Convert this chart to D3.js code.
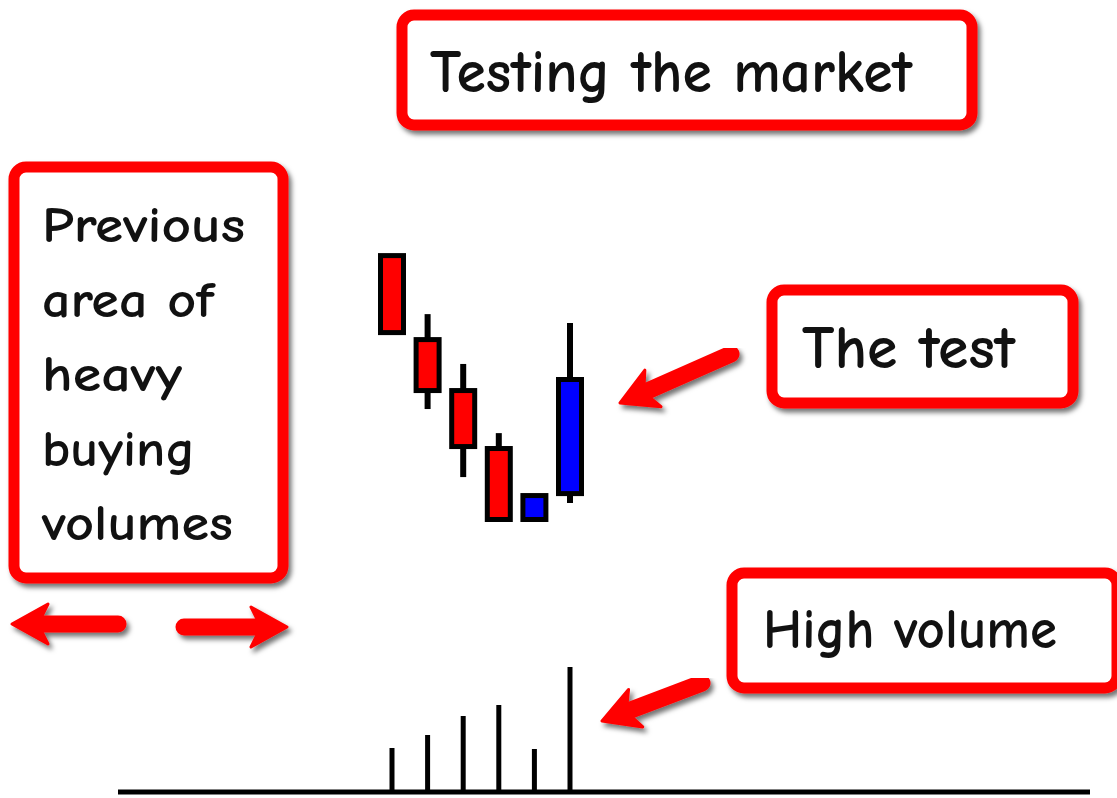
<!DOCTYPE html>
<html>
<head>
<meta charset="utf-8">
<script src="https://cdn.jsdelivr.net/npm/d3@7"></script>
<style>
  body { margin: 0; background: #fff; }
  svg { display: block; }
  text { font-family: "Comic Sans MS", "Comic Neue", "Open Sans", sans-serif; fill: #111; font-weight: 700; }
</style>
</head>
<body>
<div id="chart"></div>
<script>
(function(d3) {
  'use strict';

  // candle data (price units, 0..100)
  var candleIndex = [0, 1, 2, 3, 4, 5];
  var opens  = [98.0, 68.0, 49.8, 29.1, 3.75, 13.0];
  var closes = [70.5, 49.8, 29.8, 3.75, 12.3, 53.75];
  var highs  = [98.0, 77.1, 59.3, 34.6, 12.3, 73.9];
  var lows   = [70.5, 43.2, 18.9, 3.75, 3.75, 9.6];

  // volume under each candle
  var volumes = [44, 57, 76, 87, 43, 125];

  // annotation labels
  var titleLabel = ['Testing the market'];
  var leftLabel = ['Previous', 'area of', 'heavy', 'buying', 'volumes'];
  var testLabel = ['The test'];
  var volumeLabel = ['High volume'];

  var width = 1117;
  var height = 798;

  var red = '#ff0000';
  var blue = '#0000ff';

  var svg = d3.select('#chart')
    .append('svg')
    .attr('width', width)
    .attr('height', height);

  var defs = svg.append('defs');
  var shadow = defs.append('filter')
    .attr('id', 'shadow')
    .attr('x', '-10%').attr('y', '-10%')
    .attr('width', '130%').attr('height', '140%');
  shadow.append('feDropShadow')
    .attr('dx', 3).attr('dy', 4)
    .attr('stdDeviation', 2.5)
    .attr('flood-color', '#000')
    .attr('flood-opacity', 0.55);

  var x = d3.scaleLinear().domain([0, 5]).range([392, 570]);
  var y = d3.scaleLinear().domain([0, 100]).range([530, 250]);
  var v = d3.scaleLinear().domain([0, 130]).range([792, 662]);

  var candles = candleIndex.map(function(i) {
    return { i: i, open: opens[i], close: closes[i], high: highs[i], low: lows[i], volume: volumes[i] };
  });

  // ---- annotation boxes
  var boxes = [
    { x: 402, y: 15, w: 570, h: 110, lines: titleLabel, tx: 430, ty: 92, size: 60, lens: [482] },
    { x: 14, y: 167, w: 269, h: 411, lines: leftLabel, tx: 42, ty: 242, size: 50, step: 74.5, lens: [203, 172, 140, 153, 191] },
    { x: 772, y: 290, w: 301, h: 113, lines: testLabel, tx: 802, ty: 368, size: 60, lens: [213] },
    { x: 732, y: 573, w: 385, h: 115, lines: volumeLabel, tx: 763, ty: 648, size: 56, lens: [294] }
  ];

  var boxG = svg.selectAll('.box')
    .data(boxes)
    .enter()
    .append('g')
    .attr('class', 'box');

  boxG.append('rect')
    .attr('x', function(d) { return d.x; })
    .attr('y', function(d) { return d.y; })
    .attr('width', function(d) { return d.w; })
    .attr('height', function(d) { return d.h; })
    .attr('rx', 12)
    .attr('fill', '#fff')
    .attr('stroke', red)
    .attr('stroke-width', 11)
    .attr('filter', 'url(#shadow)');

  boxG.each(function(d) {
    var g = d3.select(this);
    d.lines.forEach(function(line, k) {
      g.append('text')
        .attr('x', d.tx)
        .attr('y', d.ty + k * (d.step || 0))
        .attr('font-size', d.size)
        .attr('textLength', d.lens[k])
        .attr('lengthAdjust', 'spacingAndGlyphs')
        .text(line);
    });
  });

  // ---- arrows
  var arrows = [
    { from: [118, 624], to: [12, 624] },
    { from: [184, 627], to: [287, 627] },
    { from: [731, 354], to: [620, 403] },
    { from: [702, 683], to: [602, 721] }
  ];

  var arrowG = svg.selectAll('.arrow')
    .data(arrows)
    .enter()
    .append('g')
    .attr('class', 'arrow')
    .attr('filter', 'url(#shadow)');

  arrowG.each(function(d) {
    var dx = d.to[0] - d.from[0], dy = d.to[1] - d.from[1];
    var len = Math.sqrt(dx * dx + dy * dy);
    var ux = dx / len, uy = dy / len;
    var px = -uy, py = ux;
    var headLen = 32, headHalf = 20;
    var bx = d.to[0] - ux * headLen, by = d.to[1] - uy * headLen;
    var g = d3.select(this);
    g.append('line')
      .attr('x1', d.from[0]).attr('y1', d.from[1])
      .attr('x2', bx + ux * 4).attr('y2', by + uy * 4)
      .attr('stroke', red)
      .attr('stroke-width', 17)
      .attr('stroke-linecap', 'round');
    g.append('path')
      .attr('d', 'M' + d.to[0] + ',' + d.to[1] +
        'L' + (bx - ux * 4 + px * headHalf) + ',' + (by - uy * 4 + py * headHalf) +
        'L' + (bx + ux * 6) + ',' + (by + uy * 6) +
        'L' + (bx - ux * 4 - px * headHalf) + ',' + (by - uy * 4 - py * headHalf) + 'Z')
      .attr('fill', red)
      .attr('stroke', red)
      .attr('stroke-width', 3)
      .attr('stroke-linejoin', 'round');
  });

  // ---- candles
  var candleG = svg.append('g').attr('class', 'candles');
  var bodyW = 23;

  candleG.selectAll('.wick')
    .data(candles)
    .enter()
    .append('line')
    .attr('class', 'wick')
    .attr('x1', function(d) { return x(d.i); })
    .attr('x2', function(d) { return x(d.i); })
    .attr('y1', function(d) { return y(d.high); })
    .attr('y2', function(d) { return y(d.low); })
    .attr('stroke', '#000')
    .attr('stroke-width', 6);

  candleG.selectAll('.body')
    .data(candles)
    .enter()
    .append('rect')
    .attr('class', 'body')
    .attr('x', function(d) { return x(d.i) - bodyW / 2; })
    .attr('y', function(d) { return y(Math.max(d.open, d.close)); })
    .attr('width', bodyW)
    .attr('height', function(d) { return Math.abs(y(d.open) - y(d.close)); })
    .attr('fill', function(d) { return d.close > d.open ? blue : red; })
    .attr('stroke', '#000')
    .attr('stroke-width', 5);

  // ---- volume
  svg.append('line')
    .attr('x1', 118).attr('x2', 1090)
    .attr('y1', v(0)).attr('y2', v(0))
    .attr('stroke', '#000')
    .attr('stroke-width', 5);

  svg.selectAll('.vol')
    .data(candles)
    .enter()
    .append('line')
    .attr('class', 'vol')
    .attr('x1', function(d) { return x(d.i); })
    .attr('x2', function(d) { return x(d.i); })
    .attr('y1', v(0))
    .attr('y2', function(d) { return v(d.volume); })
    .attr('stroke', '#000')
    .attr('stroke-width', 5);

})(window.d3);
</script>
</body>
</html>
